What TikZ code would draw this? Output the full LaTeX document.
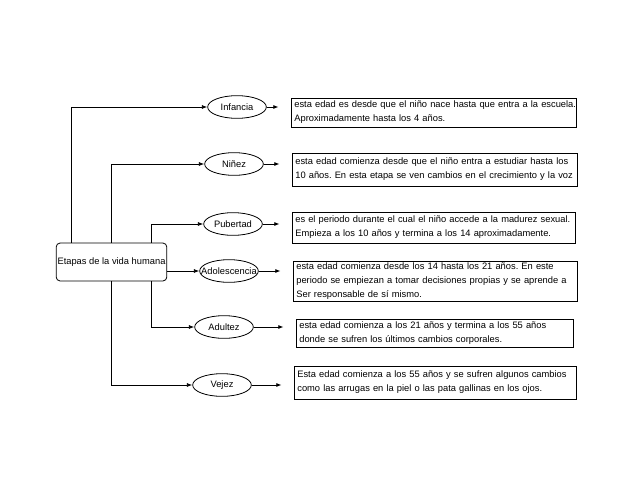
\documentclass[tikz,border=0pt]{standalone}
\usepackage{fontspec}
\setmainfont{Liberation Sans}
\usetikzlibrary{arrows.meta, positioning, shapes.geometric}
\frenchspacing
\newcommand{\linea}[1]{\makebox[\linewidth][l]{#1}}

\begin{document}
\begin{tikzpicture}[x=0.75pt, y=-0.75pt, >={Latex[length=4pt, width=3pt]},
  font=\fontsize{7}{10.5}\selectfont,
  stage/.style={ellipse, draw, line width=0.6pt, minimum width=44pt, minimum height=17pt, inner sep=0pt},
  desc/.style={draw, rectangle, line width=0.6pt, align=left, inner xsep=2.5pt, inner ysep=1pt},
  conn/.style={->, line width=0.6pt}]
  \useasboundingbox (0,0) rectangle (638,493);
  % --- Root ---
  \node[draw, line width=0.6pt, rounded corners=3pt, minimum width=83pt, minimum height=28.5pt, inner sep=0pt]
    (etapas) at (111.5,262) {Etapas de la vida humana};
  % --- Stages ---
  \node[stage] (inf) at (237,107) {Infancia};
  \node[stage] (nin) at (234,164) {Niñez};
  \node[stage] (pub) at (233,224) {Pubertad};
  \node[stage, inner xsep=-8pt] (ado) at (229,271) {Adolescencia};
  \node[stage] (adu) at (224,327) {Adultez};
  \node[stage] (vej) at (222,385) {Vejez};
  % --- Descriptions ---
  \node[desc, text width=208.75pt, minimum height=21.75pt] (infd) at (433.5,112.5)
    {\linea{esta edad es desde que el niño nace hasta que entra a la escuela.}\\
     \linea{Aproximadamente hasta los 4 años.}};
  \node[desc, text width=208.75pt, minimum height=24.75pt] (nind) at (434.5,169.5)
    {\linea{esta edad comienza desde que el niño entra a estudiar hasta los}\\
     \linea{10 años. En esta etapa se ven cambios en el crecimiento y la voz}};
  \node[desc, text width=207.25pt, minimum height=23.25pt] (pubd) at (433.5,227.5)
    {\linea{es el periodo durante el cual el niño accede a la madurez sexual.}\\
     \linea{Empieza a los 10 años y termina a los 14 aproximadamente.}};
  \node[desc, text width=208pt, minimum height=30pt] (adod) at (435,281)
    {\linea{esta edad comienza desde los 14 hasta los 21 años. En este}\\
     \linea{periodo se empiezan a tomar decisiones propias y se aprende a}\\
     \linea{Ser responsable de sí mismo.}};
  \node[desc, text width=202.75pt, minimum height=21pt] (adud) at (434.5,333)
    {\linea{esta edad comienza a los 21 años y termina a los 55 años}\\
     \linea{donde se sufren los últimos cambios corporales.}};
  \node[desc, text width=206.5pt, minimum height=24.75pt] (vejd) at (435,382.5)
    {\linea{Esta edad comienza a los 55 años y se sufren algunos cambios}\\
     \linea{como las arrugas en la piel o las pata gallinas en los ojos.}};
  % --- Connectors ---
  \draw[conn] ([xshift=12pt]etapas.north west) |- (inf);
  \draw[conn] ([xshift=42pt]etapas.north west) |- (nin);
  \draw[conn] ([xshift=72pt]etapas.north west) |- (pub);
  \draw[conn] (etapas.east |- ado) -- (ado);
  \draw[conn] ([xshift=72pt]etapas.south west) |- (adu);
  \draw[conn] ([xshift=42pt]etapas.south west) |- (vej);
  \foreach \s/\d in {inf/infd, nin/nind, pub/pubd, ado/adod, adu/adud, vej/vejd}
    \draw[conn, shorten >=9pt] (\s) -- (\s -| \d.west);
\end{tikzpicture}
\end{document}
